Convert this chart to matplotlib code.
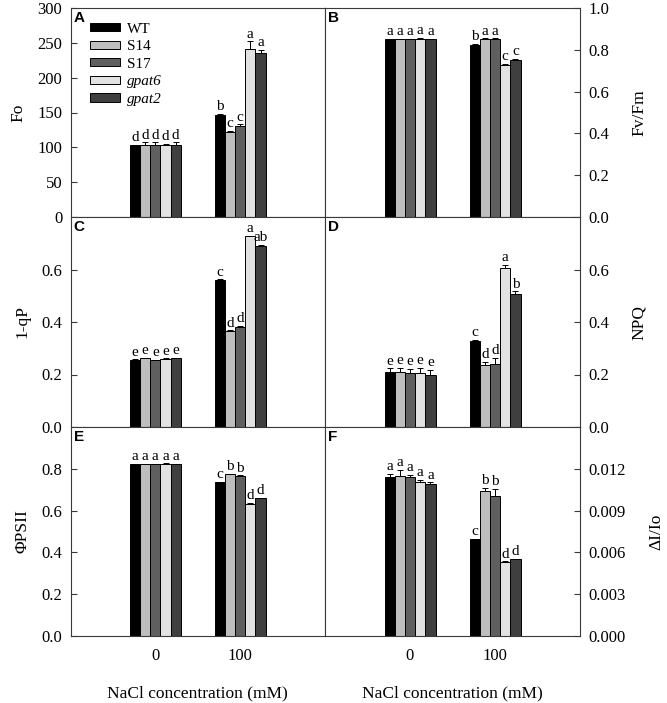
import matplotlib
matplotlib.use("Agg")
import matplotlib.pyplot as plt
import numpy as np

plt.rcParams['font.family'] = ['Liberation Serif', 'DejaVu Serif']
plt.rcParams['mathtext.fontset'] = 'stix'

genotypes = ['WT', 'S14', 'S17', 'gpat6', 'gpat2']
groups = ['0', '100']
colors = ['#000000', '#bebebe', '#5f5f5f', '#e2e2e2', '#3f3f3f']

# values [group][genotype]
fo = [[103, 104, 104, 103, 103], [146, 122, 131, 241, 235]]
fo_err = [[1, 3, 3, 2, 4], [2, 2, 2, 11, 5]]
fo_let = [['d', 'd', 'd', 'd', 'd'], ['b', 'c', 'c', 'a', 'a']]

fvfm = [[0.852, 0.852, 0.852, 0.852, 0.852], [0.825, 0.853, 0.853, 0.727, 0.752]]
fvfm_err = [[0.002, 0.002, 0.002, 0.004, 0.002], [0.003, 0.002, 0.002, 0.006, 0.005]]
fvfm_let = [['a', 'a', 'a', 'a', 'a'], ['b', 'a', 'a', 'c', 'c']]

qp = [[0.256, 0.261, 0.254, 0.258, 0.261], [0.559, 0.366, 0.382, 0.727, 0.690]]
qp_err = [[0.002, 0.002, 0.002, 0.003, 0.002], [0.003, 0.002, 0.003, 0.002, 0.005]]
qp_let = [['e', 'e', 'e', 'e', 'e'], ['c', 'd', 'd', 'a', 'ab']]

npq = [[0.209, 0.209, 0.206, 0.206, 0.200], [0.329, 0.237, 0.239, 0.605, 0.506]]
npq_err = [[0.015, 0.017, 0.015, 0.020, 0.018], [0.002, 0.011, 0.025, 0.014, 0.011]]
npq_let = [['e', 'e', 'e', 'e', 'e'], ['c', 'd', 'd', 'a', 'b']]

phi = [[0.822, 0.821, 0.822, 0.822, 0.821], [0.735, 0.773, 0.767, 0.633, 0.658]]
phi_err = [[0.002, 0.002, 0.002, 0.004, 0.002], [0.002, 0.002, 0.002, 0.003, 0.002]]
phi_let = [['a', 'a', 'a', 'a', 'a'], ['c', 'b', 'b', 'd', 'd']]

dio = [[0.01143, 0.01148, 0.01143, 0.01102, 0.01093], [0.00693, 0.01040, 0.01002, 0.00533, 0.00550]]
dio_err = [[0.00022, 0.00042, 0.00015, 0.00017, 0.00010], [0.00003, 0.00022, 0.00052, 0.00003, 0.00003]]
dio_let = [['a', 'a', 'a', 'a', 'a'], ['c', 'b', 'b', 'd', 'd']]

W, H = 667, 703
fig = plt.figure(figsize=(W / 100, H / 100), dpi=100)

xl = 70.5 / W
xm = 325 / W
xr = 580 / W
rows_px = [(8, 217), (217, 427), (427, 636)]

panels = [
    ('A', fo, fo_err, fo_let, 'Fo', (0, 300), np.arange(0, 301, 50), '{:.0f}', 'left'),
    ('B', fvfm, fvfm_err, fvfm_let, 'Fv/Fm', (0, 1.0), np.arange(0, 1.01, 0.2), '{:.1f}', 'right'),
    ('C', qp, qp_err, qp_let, '1-qP', (0, 0.8), np.arange(0, 0.61, 0.2), '{:.1f}', 'left'),
    ('D', npq, npq_err, npq_let, 'NPQ', (0, 0.8), np.arange(0, 0.61, 0.2), '{:.1f}', 'right'),
    ('E', phi, phi_err, phi_let, 'ΦPSII', (0, 1.0), np.arange(0, 0.81, 0.2), '{:.1f}', 'left'),
    ('F', dio, dio_err, dio_let, 'ΔI/Io', (0, 0.015), np.arange(0, 0.0121, 0.003), '{:.3f}', 'right'),
]

bw = 0.12
group_x = np.array([1, 2])
offsets = (np.arange(5) - 2) * bw
spine_c = '#3a3a3a'

for i, (lab, vals, errs, lets, ylab, ylim, yt, fmt, side) in enumerate(panels):
    r = i // 2
    top_px, bot_px = rows_px[r]
    y0 = 1 - bot_px / H
    h = (bot_px - top_px) / H
    if side == 'left':
        ax = fig.add_axes([xl, y0, xm - xl, h])
    else:
        ax = fig.add_axes([xm, y0, xr - xm, h])
    vals = np.array(vals)
    errs = np.array(errs)
    for g in range(5):
        xs = group_x + offsets[g]
        ys = vals[:, g]
        es = errs[:, g]
        ax.bar(xs, ys, width=bw, color=colors[g], edgecolor='black', linewidth=0.7,
               label=genotypes[g], zorder=2)
        ax.errorbar(xs, ys, yerr=[np.zeros_like(es), es], fmt='none', ecolor='black',
                    elinewidth=0.7, capsize=2.5, capthick=0.7, zorder=3)
        for k in range(2):
            ax.annotate(lets[k][g], (xs[k], ys[k] + es[k]), xytext=(0, 0.5),
                        textcoords='offset points', ha='center', va='bottom', fontsize=11)
    ax.set_xlim(0, 3)
    ax.set_ylim(*ylim)
    ax.set_yticks(yt)
    ax.set_yticklabels([fmt.format(v) for v in yt], fontsize=12)
    for s in ax.spines.values():
        s.set_color(spine_c)
        s.set_linewidth(0.8)
    if side == 'left':
        ax.tick_params(axis='y', direction='in', length=4, color=spine_c, pad=6)
        ax.set_ylabel(ylab, fontsize=12.5, labelpad=8)
    else:
        ax.yaxis.tick_right()
        ax.yaxis.set_label_position('right')
        ax.tick_params(axis='y', direction='in', length=4, color=spine_c, pad=6,
                       left=False, right=True, labelleft=False, labelright=True)
        ax.set_ylabel(ylab, fontsize=12.5, labelpad=16)
    ax.text(0.012, 0.985, lab, transform=ax.transAxes, ha='left', va='top',
            fontsize=11, fontweight='bold', family='Liberation Sans')
    if r == 2:
        ax.set_xticks(group_x)
        ax.set_xticklabels(groups, fontsize=12)
        ax.tick_params(axis='x', length=0, pad=9)
        ax.set_xlabel('NaCl concentration (mM)', fontsize=12.5, labelpad=15)
    else:
        ax.set_xticks([])
    if lab == 'A':
        leg = ax.legend(loc='upper left', bbox_to_anchor=(0.075, 0.93), frameon=False,
                        fontsize=11, handlelength=2.0, handleheight=0.45,
                        labelspacing=0.3, handletextpad=0.45, borderpad=0.0,
                        borderaxespad=0.0)
        for t in leg.get_texts():
            if t.get_text().startswith('gpat'):
                t.set_fontstyle('italic')

fig.savefig('out.png', dpi=100)
